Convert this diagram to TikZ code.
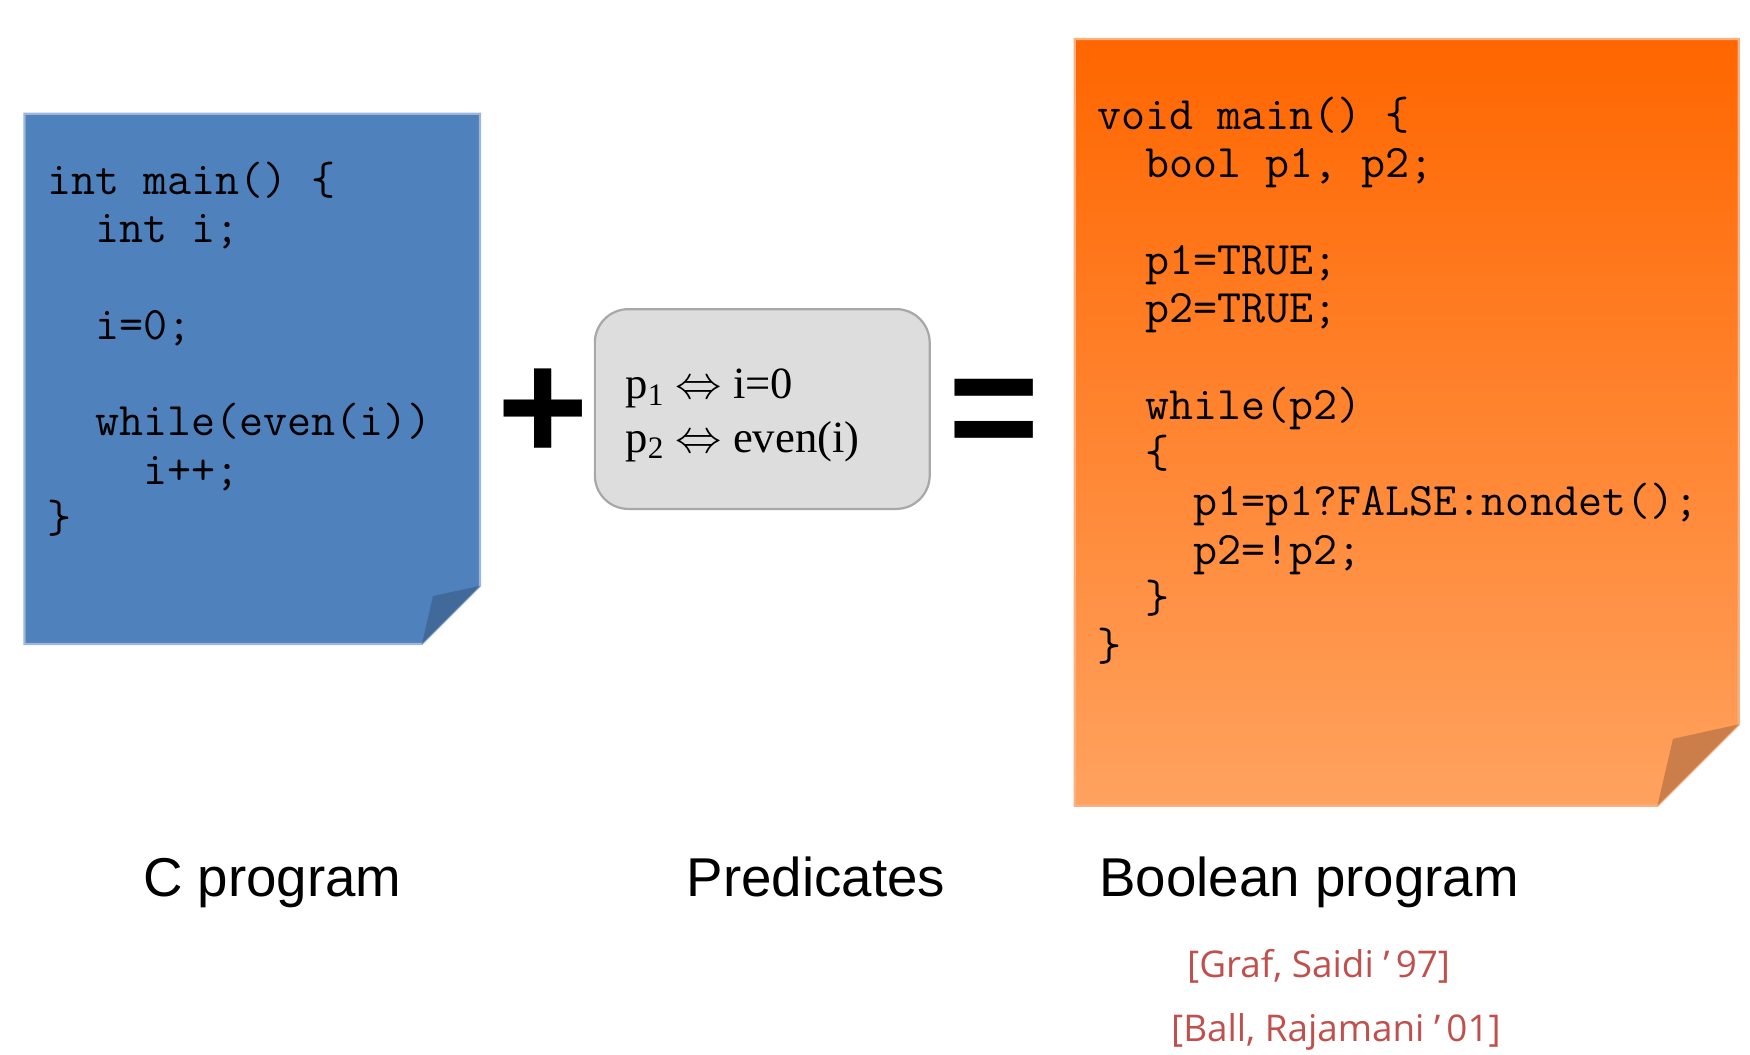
\documentclass[tikz,border=0pt]{standalone}
\usepackage{fontspec}
\setmainfont{Liberation Serif}
\newfontfamily\labelfont{Liberation Sans}
\newfontfamily\citefont{Open Sans}
\usetikzlibrary{positioning}

\definecolor{noteblue}{HTML}{4F81BD}
\definecolor{foldblue}{HTML}{41699A}
\definecolor{edgeblue}{HTML}{9DB6D9}
\definecolor{orangetop}{HTML}{FF6600}
\definecolor{orangebot}{HTML}{FFA25F}
\definecolor{foldorange}{HTML}{CC7E4A}
\definecolor{edgeorange}{HTML}{F6B185}
\definecolor{predfill}{HTML}{DDDDDD}
\definecolor{prededge}{HTML}{A8A8A8}
\definecolor{citered}{HTML}{C0504D}
\newcommand{\ind}{\phantom{xx}}

\begin{document}
\begin{tikzpicture}[x=0.5pt, y=-0.5pt,
  code/.style={font=\ttfamily\fontsize{20.9}{21.65}\selectfont, align=left, inner sep=0pt, anchor=base west},
  caption/.style={font=\labelfont\fontsize{24.5}{29}\selectfont, inner sep=0pt, anchor=base},
  cite/.style={font=\citefont\fontsize{16.5}{20}\selectfont, text=citered, inner sep=0pt, anchor=base},
  op/.style={font=\labelfont\bfseries\fontsize{70}{80}\selectfont, inner sep=0pt},
  predbox/.style={fill=predfill, draw=prededge, line width=1pt, rounded corners=15pt, minimum width=150pt, minimum height=89.5pt, inner sep=0pt}
]
\useasboundingbox (0,0) rectangle (1568,945);

% C program note
\draw[fill=noteblue, draw=edgeblue, line width=1pt] (22,102) -- (430,102) -- (430,525) -- (378,577) -- (22,577) -- cycle;
\fill[foldblue] (378,577) -- (388,534) -- (430,525) -- cycle;
\node[code] (csrc) at (42,477) {int main() \{\\ \ind int i;\\[21.65pt] \ind i=0;\\[21.65pt] \ind while(even(i))\\ \ind\ind i++;\\ \}};

% Boolean program note
\shade[top color=orangetop, bottom color=orangebot] (963,35) -- (1558,35) -- (1558,649) -- (1485,722) -- (963,722) -- cycle;
\draw[edgeorange, line width=1pt] (963,35) -- (1558,35) -- (1558,649) -- (1485,722) -- (963,722) -- cycle;
\fill[foldorange] (1485,722) -- (1499,662) -- (1558,649) -- cycle;
\node[code] (boolsrc) at (983,592) {void main() \{\\ \ind bool p1, p2;\\[21.65pt] \ind p1=TRUE;\\ \ind p2=TRUE;\\[21.65pt] \ind while(p2)\\ \ind \{\\ \ind\ind p1=p1?FALSE:nondet();\\ \ind\ind p2=!p2;\\ \ind \}\\ \}};

% predicates
\node[predbox] (preds) at (683,366.5) {};
\node[anchor=base west, inner sep=0pt, align=left, font=\fontsize{20}{24}\selectfont] (predtext) at (560,405) {p\textsubscript{1} $\Leftrightarrow$ i=0\\ p\textsubscript{2} $\Leftrightarrow$ even(i)};

% operators
\node[op] (plus) at (487,372) {+};
\node[op] (equals) at (891,376) {=};

% captions
\node[caption] (clabel) at (244,803) {C program};
\node[caption] (predlabel) at (731,803) {Predicates};
\node[caption] (boollabel) at (1173,803) {Boolean program};
\node[cite] (cite1) at (1181.5,876) {[Graf, Saidi ’\,97]};
\node[cite] (cite2) at (1197,933) {[Ball, Rajamani ’\,01]};
\end{tikzpicture}
\end{document}
